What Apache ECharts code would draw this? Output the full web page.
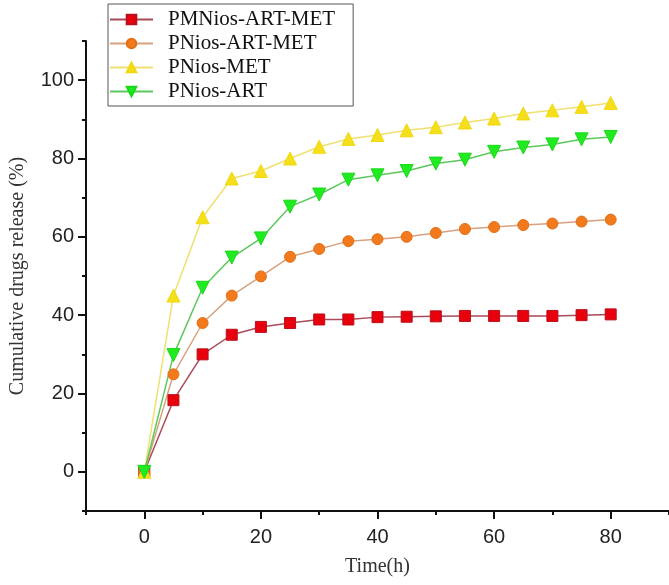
<!DOCTYPE html>
<html>
<head>
<meta charset="utf-8">
<script src="https://cdn.jsdelivr.net/npm/echarts@6/dist/echarts.min.js"></script>
<style>html,body{margin:0;padding:0;background:#fff}#c{width:669px;height:585px}</style>
</head>
<body>
<div id="c"></div>
<script>
const times = [0,5,10,15,20,25,30,35,40,45,50,55,60,65,70,75,80];
const seriesNames = ['PMNios-ART-MET','PNios-ART-MET','PNios-MET','PNios-ART'];
const pmniosArtMet = [0,18.3,30,35,37,38,38.9,38.9,39.5,39.6,39.7,39.8,39.8,39.8,39.8,40,40.2];
const pniosArtMet  = [0,24.9,38,45,49.9,54.9,56.9,58.9,59.4,60,61,62,62.5,63,63.4,63.9,64.4];
const pniosMet     = [0,45,65,74.9,76.8,80,83,85,86,87.2,88,89.2,90.2,91.5,92.3,93.2,94.2];
const pniosArt     = [0,29.8,47,54.7,59.6,67.7,70.8,74.6,75.7,76.8,78.7,79.7,81.7,82.8,83.6,84.9,85.5];
const yMajor = [0,20,40,60,80,100];
const xMajor = [0,20,40,60,80];

const pairs = arr => arr.map((v,i)=>[times[i], v]);
const styles = [
  {sym:'rect', size:11, rot:0, mc:'#e8000c', bc:'#b8101c', lc:'#a84a58'},
  {sym:'circle', size:11, rot:0, mc:'#f27a1c', bc:'#e07018', lc:'#d8a280'},
  {sym:'triangle', size:13, rot:0, mc:'#f5df1a', bc:'#f0d810', lc:'#efe070'},
  {sym:'triangle', size:13, rot:180, mc:'#20ea20', bc:'#18d818', lc:'#5cc85c'}
];
const dataSets = [pmniosArtMet, pniosArtMet, pniosMet, pniosArt];

const chart = echarts.init(document.getElementById('c'), null, {renderer:'canvas'});
const axisFont = {fontFamily:'Liberation Sans', fontSize:20, color:'#222'};
const nameFont = {fontFamily:'Liberation Serif', fontSize:20, color:'#333'};
chart.setOption({
  animation:false,
  backgroundColor:'#fff',
  grid:{left:84, right:0, top:41, bottom:74, containLabel:false},
  legend:{
    orient:'vertical', left:108, top:4,
    data:seriesNames,
    itemWidth:43, itemHeight:12, itemGap:3,
    padding:[5,18,4,1],
    borderColor:'#555', borderWidth:1, backgroundColor:'#fff',
    textStyle:{fontFamily:'Liberation Serif', fontSize:21, color:'#111', padding:[0,0,0,10]}
  },
  xAxis:[{
    type:'value', min:-10, max:90, interval:10, position:'bottom',
    name:'Time(h)', nameLocation:'middle', nameGap:46, nameTextStyle:nameFont,
    axisLine:{show:true, onZero:false, lineStyle:{color:'#111', width:2}},
    axisTick:{show:true, length:8, customValues:xMajor, lineStyle:{color:'#111', width:2}},
    axisLabel:{customValues:xMajor, margin:16, ...axisFont},
    splitLine:{show:false}
  },{
    type:'value', min:-10, max:90, interval:10, position:'bottom',
    axisLine:{show:false, onZero:false},
    axisTick:{show:true, length:4, lineStyle:{color:'#111', width:2}},
    axisLabel:{show:false}, splitLine:{show:false}
  }],
  yAxis:[{
    type:'value', min:-10, max:110, interval:10, position:'left',
    name:'Cumulative drugs release (%)', nameLocation:'middle', nameGap:58, nameTextStyle:nameFont,
    axisLine:{show:true, onZero:false, lineStyle:{color:'#111', width:2}},
    axisTick:{show:true, length:8, customValues:yMajor, lineStyle:{color:'#111', width:2}},
    axisLabel:{customValues:yMajor, margin:12, ...axisFont},
    splitLine:{show:false}
  },{
    type:'value', min:-10, max:110, interval:10, position:'left',
    axisLine:{show:false, onZero:false},
    axisTick:{show:true, length:4, lineStyle:{color:'#111', width:2}},
    axisLabel:{show:false}, splitLine:{show:false}
  }],
  series: dataSets.map((d,i)=>({
    name:seriesNames[i], type:'line', data:pairs(d),
    symbol:styles[i].sym, symbolSize:styles[i].size, symbolRotate:styles[i].rot,
    showAllSymbol:true,
    itemStyle:{color:styles[i].mc, borderColor:styles[i].bc, borderWidth:1},
    lineStyle:{color:styles[i].lc, width:1.5},
    z: 2
  }))
});
</script>
</body>
</html>
